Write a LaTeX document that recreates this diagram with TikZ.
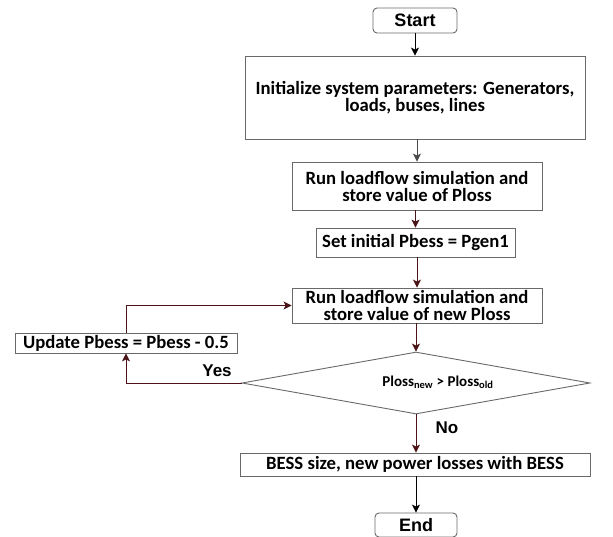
\documentclass[tikz,border=0pt]{standalone}
\usepackage{fontspec}
\setmainfont{Carlito}
\newfontfamily\arialfont{Liberation Sans}
\usetikzlibrary{shapes.geometric, arrows.meta}
\definecolor{boxline}{RGB}{105,105,105}
\definecolor{flowline}{RGB}{75,20,25}
\begin{document}
\begin{tikzpicture}[x=1pt, y=-1pt,
    box/.style={rectangle, draw=boxline, line width=0.9pt, inner sep=0pt, align=center, font=\fontsize{18.7}{17}\selectfont\bfseries},
    term/.style={rectangle, rounded corners=4pt, draw=boxline, line width=0.9pt, inner sep=0pt, font=\arialfont\fontsize{18}{18}\selectfont\bfseries},
    decision/.style={diamond, draw=boxline, line width=0.9pt, inner sep=0pt},
    arrow/.style={->, >={Stealth[length=8pt, width=8pt, inset=2pt]}, line width=0.9pt},
    darrow/.style={arrow, draw=flowline}
]
    \useasboundingbox (0,0) rectangle (613,537);

    % Start und Init
    \node[term, minimum width=84pt, minimum height=25pt] (start) at (415,20.5) {Start};
    \node[box, minimum width=340pt, minimum height=83pt] (init) at (415,97.5) {Initialize system parameters: Generators,\\loads, buses, lines};

    % Lastfluss
    \node[box, minimum width=250pt, minimum height=48pt] (run1) at (417,186) {Run loadflow simulation and\\store value of Ploss};
    \node[box, minimum width=199pt, minimum height=29pt] (setp) at (415.5,242.5) {Set initial Pbess = Pgen1};
    \node[box, minimum width=250pt, minimum height=35pt] (run2) at (417,305.5) {Run loadflow simulation and\\store value of new Ploss};

    % Schleife
    \node[box, minimum width=222pt, minimum height=20pt] (update) at (126,343) {Update Pbess = Pbess - 0.5};
    \node[decision, minimum width=348pt, minimum height=62pt] (check) at (416,383) {};
    \node[font=\fontsize{15}{15}\selectfont\bfseries] (cond) at (438,382) {Ploss\textsubscript{new} > Ploss\textsubscript{old}};
    \node[font=\arialfont\fontsize{17}{17}\selectfont\bfseries] (yes) at (217,371) {Yes};
    \node[font=\arialfont\fontsize{17}{17}\selectfont\bfseries] (no) at (447,428) {No};

    % Ergebnis
    \node[box, minimum width=350pt, minimum height=23pt] (bess) at (415,464.5) {BESS size, new power losses with BESS};
    \node[term, minimum width=82pt, minimum height=24pt] (stop) at (416,525) {End};

    % Pfeile
    \draw[arrow] (start) -- (init);
    \draw[arrow, draw=boxline!70!black] (init.south -| run1.north) -- (run1);
    \draw[darrow] (run1.south -| setp.north) -- (setp);
    \draw[darrow] (setp.south -| run2.north) -- (run2);
    \draw[darrow] (run2.south -| check.north) -- (check);
    \draw[darrow] (check.west) -| (update.south);
    \draw[darrow] (update.north) |- (run2.west);
    \draw[darrow] (check.south) -- (check.south |- bess.north);
    \draw[arrow] (bess.south -| stop.north) -- (stop);
\end{tikzpicture}
\end{document}
